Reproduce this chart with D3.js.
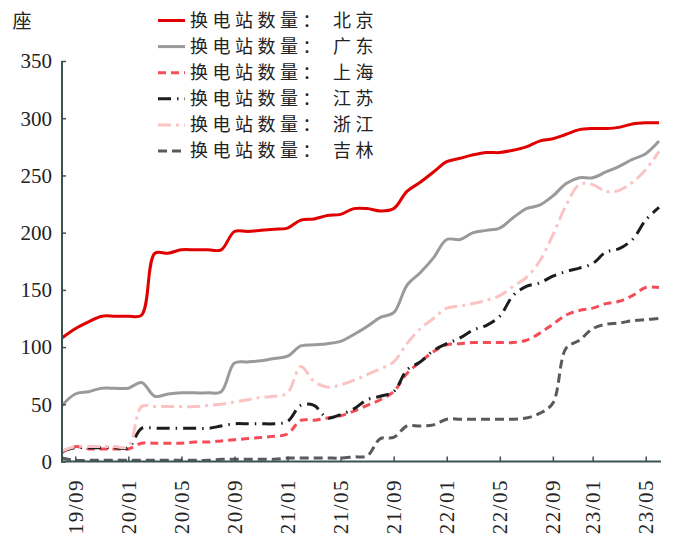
<!DOCTYPE html>
<html>
<head>
<meta charset="utf-8">
<script src="https://cdn.jsdelivr.net/npm/d3@7"></script>
<style>
  html, body { margin: 0; padding: 0; background: #ffffff; }
  svg { display: block; }
</style>
</head>
<body>
<svg id="chart" width="684" height="540"></svg>
<script>
// ---- data ----
const dates = [
  "19/08","19/09","19/10","19/11","19/12",
  "20/01","20/02","20/03","20/04","20/05","20/06","20/07","20/08","20/09","20/10","20/11","20/12",
  "21/01","21/02","21/03","21/04","21/05","21/06","21/07","21/08","21/09","21/10","21/11","21/12",
  "22/01","22/02","22/03","22/04","22/05","22/06","22/07","22/08","22/09","22/10","22/12",
  "23/01","23/02","23/03","23/04","23/05","23/06"
];
const tickLabels = ["19/09","20/01","20/05","20/09","21/01","21/05","21/09","22/01","22/05","22/09","23/01","23/05"];
const yTicks = [0, 50, 100, 150, 200, 250, 300, 350];

const seriesNames = ["换电站数量：北京","换电站数量：广东","换电站数量：上海","换电站数量：江苏","换电站数量：浙江","换电站数量：吉林"];

const beijing = [108,116,122,127,127,127,128,182,182,185,185,185,185,201,201,202,203,204,211,212,215,216,221,221,219,221,236,244,253,262,265,268,270,270,272,275,280,282,286,290,291,291,292,295,296,296];
const guangdong = [49,59,61,64,64,64,69,57,59,60,60,60,61,86,87,88,90,92,101,102,103,105,111,118,126,130,154,165,178,194,194,200,202,204,213,221,224,232,243,248,248,253,258,264,269,280];
const shanghai = [8,13,11,11,11,11,16,16,16,16,17,17,18,19,20,21,22,24,36,36,38,40,44,49,54,61,77,87,96,102,103,104,104,104,104,106,112,120,128,132,134,138,140,145,152,152];
const jiangsu = [9,12,12,12,12,12,29,29,29,29,29,29,31,33,33,33,33,35,49,49,38,41,46,54,57,61,80,87,97,103,108,115,119,127,145,153,156,162,166,169,173,183,186,194,211,222];
const zhejiang = [9,13,13,13,13,13,48,48,48,48,48,49,50,52,54,56,57,60,83,70,65,67,71,76,81,87,103,116,125,134,136,138,141,145,153,161,175,198,224,242,242,236,237,244,255,271];
const jilin = [3,1,1,1,1,1,1,1,1,1,1,1,2,2,2,2,2,3,3,3,3,3,4,5,20,21,31,31,32,37,37,37,37,37,37,38,42,51,99,106,116,120,121,123,124,125];

// ---- styles ----
const styles = [
  { color: "#e00000", dash: null,        width: 3 },
  { color: "#9a9a9a", dash: null,        width: 3 },
  { color: "#f44d58", dash: "8,5",       width: 3 },
  { color: "#1c1c1c", dash: "13,6,1.5,6", width: 3 },
  { color: "#fbc3c3", dash: "13,5,3,5",  width: 3 },
  { color: "#5a5a5a", dash: "9,5",       width: 3 }
];
const allSeries = [beijing, guangdong, shanghai, jiangsu, zhejiang, jilin];

const svg = d3.select("#chart");
const axisColor = "#3b5252";
const numFont = "'Liberation Serif', 'DejaVu Serif', serif";
const cjkFont = "'Noto Sans CJK SC', 'Noto Sans', sans-serif";

const x = d3.scalePoint().domain(dates).range([62, 659]);
const y = d3.scaleLinear().domain([0, 350]).range([461.5, 61]);

// lines
const line = d3.line()
  .x((d, i) => x(dates[i]))
  .y(d => y(d))
  .curve(d3.curveCatmullRom.alpha(0.5));

allSeries.forEach((s, k) => {
  const st = styles[k];
  svg.append("path")
    .datum(s)
    .attr("d", line)
    .attr("fill", "none")
    .attr("stroke", st.color)
    .attr("stroke-width", st.width)
    .attr("stroke-dasharray", st.dash)
    .attr("stroke-linejoin", "round");
});

// y axis
const yAxis = d3.axisRight(y).tickValues(yTicks).tickSize(4).tickFormat("");
const gy = svg.append("g").attr("transform", "translate(62,0)").call(yAxis);
gy.select(".domain").attr("stroke", axisColor).attr("stroke-width", 2).attr("d", "M0,61V462.5");
gy.selectAll(".tick line").attr("stroke", axisColor).attr("stroke-width", 1.5);

svg.append("g").selectAll("text").data(yTicks).join("text")
  .attr("x", 52)
  .attr("y", d => y(d))
  .attr("dy", "0.35em")
  .attr("text-anchor", "end")
  .attr("font-family", numFont)
  .attr("font-size", 21)
  .attr("fill", "#222")
  .text(d => d);

// x axis
const xAxis = d3.axisTop(x).tickValues(tickLabels).tickSize(5).tickFormat("");
const gx = svg.append("g").attr("transform", "translate(0,461.5)").call(xAxis);
gx.select(".domain").attr("stroke", axisColor).attr("stroke-width", 2).attr("d", "M61,0H661");
gx.selectAll(".tick line").attr("stroke", axisColor).attr("stroke-width", 1.5);

svg.append("g").selectAll("text").data(tickLabels).join("text")
  .attr("transform", d => `translate(${x(d)},479) rotate(-90)`)
  .attr("dy", "0.35em")
  .attr("text-anchor", "end")
  .attr("font-family", numFont)
  .attr("font-size", 21)
  .attr("letter-spacing", "1.5px")
  .attr("fill", "#222")
  .text(d => d);

// unit label
svg.append("text")
  .attr("x", 22).attr("y", 28)
  .attr("text-anchor", "middle")
  .attr("font-family", cjkFont)
  .attr("font-size", 19)
  .attr("fill", "#222")
  .text("座");

// legend
const lg = svg.append("g");
seriesNames.forEach((name, k) => {
  const st = styles[k];
  const yy = 20.5 + k * 26.1;
  lg.append("line")
    .attr("x1", 158).attr("x2", 185)
    .attr("y1", yy).attr("y2", yy)
    .attr("stroke", st.color)
    .attr("stroke-width", 3)
    .attr("stroke-dasharray", st.dash);
  const parts = name.split("：");
  const t = lg.append("text")
    .attr("x", 190).attr("y", yy)
    .attr("dy", "0.36em")
    .attr("font-family", cjkFont)
    .attr("font-size", 18)
    .attr("letter-spacing", "4.5px")
    .attr("fill", "#222");
  t.append("tspan").text(parts[0] + "：");
  t.append("tspan").attr("dx", 8).text(parts[1]);
});
</script>
</body>
</html>
